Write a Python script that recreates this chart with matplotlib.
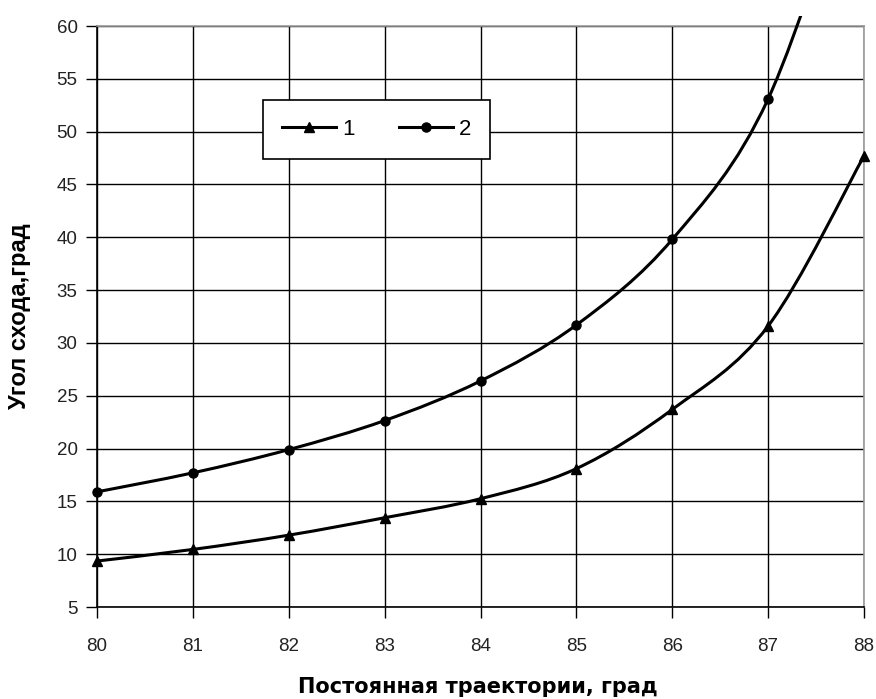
import numpy as np
import matplotlib
matplotlib.use("Agg")
import matplotlib.pyplot as plt
from matplotlib.path import Path
from matplotlib.patches import PathPatch, Rectangle
from matplotlib.lines import Line2D

x_vals = [80, 81, 82, 83, 84, 85, 86, 87, 88]
series1 = [9.35, 10.45, 11.8, 13.45, 15.25, 18.1, 23.7, 31.6, 47.7]
series2 = [15.9, 17.7, 19.9, 22.65, 26.4, 31.7, 39.8, 53.1, 79.0]
labels = ["1", "2"]
markers = ["^", "o"]
xticks = list(range(80, 89))
yticks = list(range(5, 61, 5))
xlabel = "Постоянная траектории, град"
ylabel = "Угол схода,град"

plt.rcParams['font.family'] = ['Liberation Sans', 'DejaVu Sans']

fig = plt.figure(figsize=(8.76, 6.99), dpi=100)
ax = fig.add_axes([97/876, 1 - 607/699, 767/876, 581/699])
ax.set_xlim(80, 88)
ax.set_ylim(5, 60)


def smooth_path(xs, ys):
    pts = np.column_stack([xs, ys]).astype(float)
    n = len(pts)
    verts = [pts[0]]
    codes = [Path.MOVETO]
    for i in range(n - 1):
        p0 = pts[i - 1] if i > 0 else pts[i]
        p1 = pts[i]
        p2 = pts[i + 1]
        p3 = pts[i + 2] if i + 2 < n else pts[i + 1]
        c1 = p1 + (p2 - p0) / 6.0
        c2 = p2 - (p3 - p1) / 6.0
        verts += [c1, c2, p2]
        codes += [Path.CURVE4] * 3
    return Path(verts, codes)


clip = Rectangle((0, 0), 1, 1.018, transform=ax.transAxes, visible=False)
ax.add_patch(clip)

for ys, m, lab in zip([series1, series2], markers, labels):
    patch = PathPatch(smooth_path(x_vals, ys), facecolor='none', edgecolor='black',
                      lw=2.2, zorder=3)
    ax.add_patch(patch)
    patch.set_clip_path(clip)
    xs_vis = [xv for xv, yv in zip(x_vals, ys) if yv <= 60]
    ys_vis = [yv for yv in ys if yv <= 60]
    ax.plot(xs_vis, ys_vis, linestyle='none', marker=m, color='black',
            markersize=7.5 if m == '^' else 6.5, zorder=4, clip_on=False)

ax.set_xticks(xticks)
ax.set_yticks(yticks)
ax.grid(True, color='black', lw=1.0)
ax.set_axisbelow(True)
ax.tick_params(direction='out', length=8, width=1, color='black',
               labelsize=13.5, labelcolor='#222222', pad=6)
ax.tick_params(axis='x', pad=14)
ax.spines['left'].set_color('black')
ax.spines['bottom'].set_color('black')
ax.spines['top'].set_color('#999999')
ax.spines['right'].set_color('#999999')
for s in ax.spines.values():
    s.set_linewidth(1.2)

ax.set_xlabel(xlabel, fontsize=15, fontweight='bold', family=['DejaVu Sans'])
ax.set_ylabel(ylabel, fontsize=17, fontweight='bold')
ax.xaxis.set_label_coords(0.497, -0.120)
ax.yaxis.set_label_coords(-0.086, 0.5)

handles = [Line2D([0], [0], color='black', lw=2.2, marker=m, markersize=6.5)
           for m in markers]
leg = ax.legend(handles, labels, ncol=2, loc='upper left',
                bbox_to_anchor=((263 - 97) / 767, (607 - 100) / 581),
                frameon=True, fancybox=False, shadow=False, fontsize=16,
                handlelength=2.45, handletextpad=0.25, columnspacing=2.0,
                borderpad=0.85, borderaxespad=0)
leg.get_frame().set_edgecolor('black')
leg.get_frame().set_linewidth(1.2)
leg.get_frame().set_alpha(1)

fig.savefig("out.png", dpi=100)
